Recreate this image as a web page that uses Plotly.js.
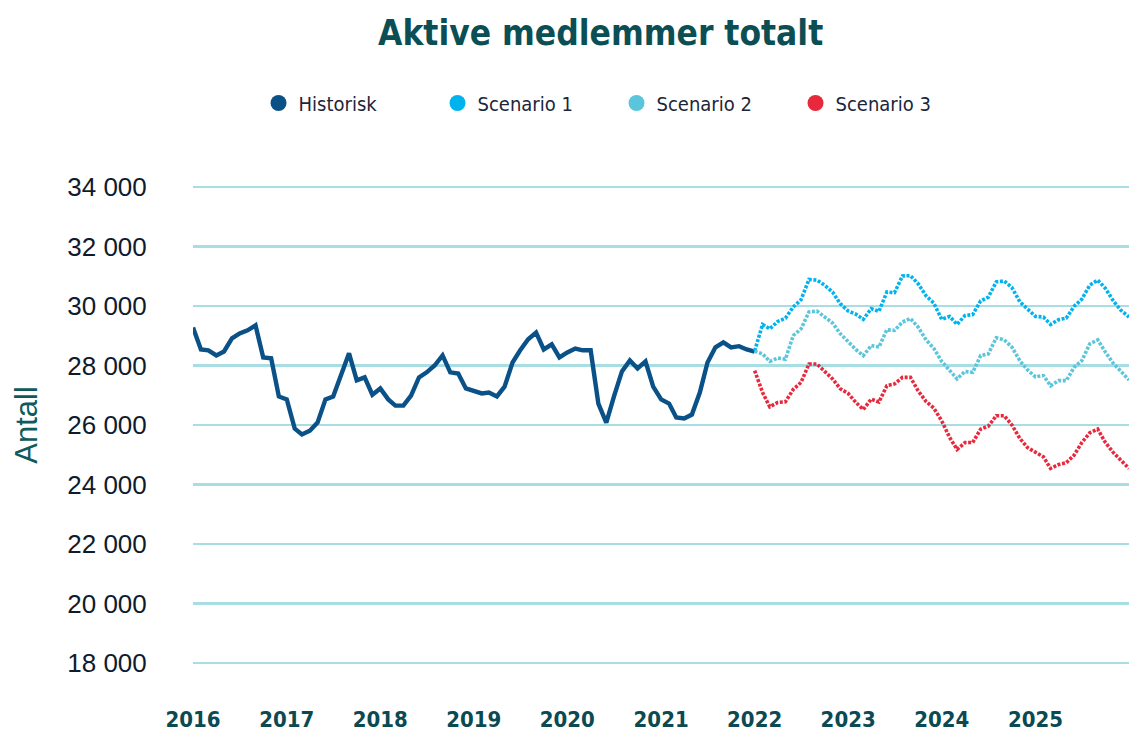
<!DOCTYPE html>
<html>
<head>
<meta charset="utf-8">
<script src="https://cdn.plot.ly/plotly-3.0.1.min.js"></script>
<style>
html,body{margin:0;padding:0;background:#fff;}
#chart{width:1129px;height:733px;}
</style>
</head>
<body>
<div id="chart"></div>
<script>
// ---- data (monthly values) ----
const historiskStart = [2016, 1];
const historisk = [29280, 28540, 28510, 28340, 28470, 28910, 29080, 29180, 29350, 28270,
  28240, 26960, 26860, 25880, 25680, 25810, 26080, 26860, 26960, 27660,
  28410, 27500, 27600, 27020, 27230, 26860, 26650, 26650, 26990, 27600,
  27770, 28000, 28340, 27770, 27730, 27230, 27160, 27060, 27090, 26960,
  27290, 28100, 28510, 28880, 29110, 28540, 28710, 28270, 28440, 28570,
  28510, 28510, 26720, 26080, 26960, 27800, 28170, 27900, 28140, 27290,
  26860, 26720, 26250, 26220, 26350, 27090, 28100, 28610, 28780, 28610,
  28650, 28540, 28470];

const scenarioStart = [2022, 1];
const scenario1 = [28490, 29380, 29230, 29480, 29590, 29970, 30210, 30890, 30870, 30700,
  30470, 30080, 29830, 29720, 29550, 29910, 29820, 30470, 30450, 31010,
  31020, 30750, 30340, 30100, 29550, 29650, 29380, 29680, 29710, 30170,
  30300, 30810, 30840, 30620, 30140, 29890, 29650, 29630, 29380, 29540,
  29590, 29990, 30230, 30700, 30870, 30590, 30170, 29850, 29630];
const scenario2 = [28480, 28390, 28140, 28250, 28210, 29010, 29230, 29800, 29830, 29650,
  29430, 29070, 28800, 28530, 28330, 28670, 28620, 29200, 29180, 29460,
  29580, 29290, 28860, 28580, 28140, 27830, 27550, 27800, 27770, 28330,
  28390, 28930, 28860, 28620, 28160, 27850, 27620, 27660, 27320, 27490,
  27490, 27940, 28160, 28730, 28860, 28450, 28070, 27800, 27510];
const scenario3 = [27830, 27090, 26610, 26760, 26780, 27200, 27430, 28050, 28050, 27800,
  27550, 27220, 27060, 26750, 26520, 26870, 26770, 27320, 27380, 27600,
  27600, 27150, 26790, 26570, 26140, 25580, 25180, 25410, 25410, 25860,
  25960, 26310, 26310, 26000, 25550, 25240, 25070, 24930, 24540, 24670,
  24730, 24990, 25410, 25740, 25860, 25410, 25070, 24810, 24540];

const yearLabels = ['2016','2017','2018','2019','2020','2021','2022','2023','2024','2025'];
const seriesNames = ['Historisk', 'Scenario 1', 'Scenario 2', 'Scenario 3'];
const seriesColors = ['#0a5188', '#00b3ef', '#5bc6db', '#e8283c'];

// ---- helpers ----
function months(start, n) {
  const out = [];
  let y = start[0], m = start[1];
  for (let i = 0; i < n; i++) {
    out.push(y + '-' + String(m).padStart(2, '0') + '-01');
    m++; if (m > 12) { m = 1; y++; }
  }
  return out;
}

const xHist = months(historiskStart, historisk.length);
const xScen = months(scenarioStart, scenario1.length);

const narrow = '"Liberation Sans Narrow", "DejaVu Sans Condensed", "Arial Narrow", sans-serif';
const dotDash = '3px,1.6px';

const traces = [
  {x: xHist, y: historisk, mode: 'lines', line: {color: seriesColors[0], width: 4.4}, showlegend: false},
  {x: xScen, y: scenario1, mode: 'lines', line: {color: seriesColors[1], width: 3.6, dash: dotDash}, showlegend: false},
  {x: xScen, y: scenario2, mode: 'lines', line: {color: seriesColors[2], width: 3.6, dash: dotDash}, showlegend: false},
  {x: xScen, y: scenario3, mode: 'lines', line: {color: seriesColors[3], width: 3.6, dash: dotDash}, showlegend: false}
];
// legend entries (circle symbols)
seriesNames.forEach((name, i) => {
  traces.push({x: [null], y: [null], mode: 'markers', name: name,
    marker: {color: seriesColors[i], size: 16, symbol: 'circle'}, showlegend: true});
});

const layout = {
  width: 1129, height: 733,
  margin: {l: 193, r: 0, t: 184, b: 67, autoexpand: false},
  paper_bgcolor: '#ffffff', plot_bgcolor: '#ffffff',
  separators: ', ',
  showlegend: true,
  title: {
    text: '<b>Aktive medlemmer totalt</b>',
    font: {family: narrow, size: 35, color: '#0b4f55'},
    x: 0.532, xref: 'container', xanchor: 'center',
    y: 0.955, yref: 'container', yanchor: 'middle'
  },
  legend: {
    orientation: 'h', x: 0.07, xanchor: 'left', y: 1.168, yanchor: 'middle',
    font: {family: narrow, size: 20, color: '#1c2639'},
    entrywidth: 134, entrywidthmode: 'pixels',
    bgcolor: 'rgba(0,0,0,0)'
  },
  xaxis: {
    type: 'date',
    range: ['2016-01-01', '2026-01-01'],
    tickvals: yearLabels.map(y => y + '-01-01'),
    ticktext: yearLabels.map(y => '<b>' + y + '</b>'),
    ticks: 'outside', ticklen: 34, tickcolor: 'rgba(0,0,0,0)',
    tickfont: {family: narrow, size: 22, color: '#0b4a52'},
    showgrid: false, zeroline: false, showline: false,
    automargin: false
  },
  yaxis: {
    range: [17900, 34100],
    tickvals: [18000, 20000, 22000, 24000, 26000, 28000, 30000, 32000, 34000],
    tickformat: ',d',
    ticks: 'outside', ticklen: 40, tickcolor: 'rgba(0,0,0,0)',
    tickfont: {family: '"Liberation Sans", Arial, sans-serif', size: 26, color: '#0f1b2d'},
    showgrid: true, gridcolor: '#a9dde4', gridwidth: 2.6,
    zeroline: false, showline: false,
    title: {text: 'Antall', font: {family: '"Liberation Sans", Arial, sans-serif', size: 31, color: '#0e5a5c'}, standoff: 20},
    automargin: false
  },
  hovermode: false
};

Plotly.newPlot('chart', traces, layout, {staticPlot: true, displayModeBar: false});
</script>
</body>
</html>
